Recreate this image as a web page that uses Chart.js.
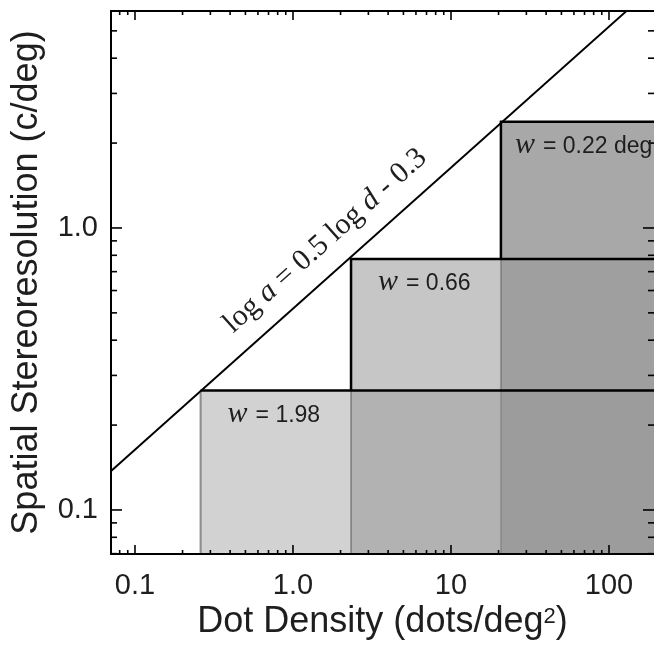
<!DOCTYPE html>
<html>
<head>
<meta charset="utf-8">
<script src="https://cdn.jsdelivr.net/npm/chart.js@4.4.0/dist/chart.umd.min.js"></script>
<style>
  body { margin: 0; background: #fff; }
</style>
</head>
<body>
<canvas id="myChart" width="654" height="646"></canvas>
<script>
// axis ranges (dots/deg2, c/deg)
const xRange = [0.0705, 192.7];
const yRange = [0.0698, 5.88];
const xLabelValues = [0.1, 1, 10, 100];
const xLabelText = ["0.1", "1.0", "10", "100"];
const yLabelValues = [0.1, 1];
const yLabelText = ["0.1", "1.0"];

// staircase boxes: corner density / resolution, labels
const boxDensity = [0.26, 2.33, 20.7];
const boxResolution = [0.265, 0.776, 2.38];
const boxWidth = ["1.98", "0.66", "0.22 deg"];

// log a = 0.5 log d - 0.3 (end points read at the plot edges)
const lineDensity = [0.07, 130];
const lineResolution = [0.137, 5.9];

const textColor = "#1e1e1e";
const boxFill = ["rgba(152,152,152,0.44)", "rgba(152,152,152,0.55)", "rgba(152,152,152,0.845)"];

function logTicks(min, max) {
  const out = [];
  for (let e = -2; e <= 3; e++) {
    for (let m = 1; m <= 9; m++) {
      const v = +(m * Math.pow(10, e)).toPrecision(3);
      if (v >= min && v <= max) out.push({ value: v });
    }
  }
  return out;
}

function labelFor(values, texts) {
  return function (v) {
    const i = values.findIndex((t) => Math.abs(t - v) / t < 1e-6);
    return i >= 0 ? texts[i] : "";
  };
}

const boxSets = boxDensity.map((d, i) => {
  const pts = [{ x: d, y: yRange[0] }];
  if (i > 0) pts.push({ x: d, y: boxResolution[i - 1] });
  pts.push({ x: d, y: boxResolution[i] });
  pts.push({ x: xRange[1], y: boxResolution[i] });
  return {
    data: pts,
    fill: "start",
    backgroundColor: boxFill[i],
    borderColor: "#000",
    borderWidth: 2.5,
    pointRadius: 0,
    tension: 0,
    segment: {
      borderColor: (c) => (c.p0.parsed.y <= yRange[0] * 1.001 ? "rgba(0,0,0,0.42)" : "#000"),
      borderWidth: (c) => (c.p0.parsed.y <= yRange[0] * 1.001 ? 2 : 2.5),
    },
  };
});

const diagSet = {
  data: lineDensity.map((d, i) => ({ x: d, y: lineResolution[i] })),
  borderColor: "#000",
  borderWidth: 2,
  pointRadius: 0,
  fill: false,
};

function seg(ctx, x1, y1, x2, y2) {
  ctx.beginPath();
  ctx.moveTo(x1, y1);
  ctx.lineTo(x2, y2);
  ctx.stroke();
}

const decorations = {
  id: "decorations",
  afterDatasetsDraw(chart) {
    const { ctx, chartArea: a } = chart;
    const x = chart.scales.x, y = chart.scales.y;
    ctx.save();
    ctx.strokeStyle = "#000";
    ctx.lineWidth = 1.6;
    // inward ticks on all four sides
    x.ticks.forEach((t) => {
      const px = x.getPixelForValue(t.value);
      const len = t.label ? 9 : 4;
      seg(ctx, px, a.bottom, px, a.bottom - len);
      seg(ctx, px, a.top, px, a.top + len);
    });
    y.ticks.forEach((t) => {
      const py = y.getPixelForValue(t.value);
      const len = t.label ? 11 : 6;
      seg(ctx, a.left, py, a.left + len, py);
      seg(ctx, a.right, py, a.right - len, py);
    });
    ctx.lineWidth = 2;
    ctx.strokeRect(a.left, a.top, a.right - a.left + 2, a.bottom - a.top);

    // box labels
    ctx.fillStyle = textColor;
    ctx.textBaseline = "alphabetic";
    const dx = [27, 27, 14];
    boxDensity.forEach((d, i) => {
      let px = x.getPixelForValue(d) + dx[i];
      const py = y.getPixelForValue(boxResolution[i]) + 31;
      ctx.font = 'italic 30px "Liberation Serif"';
      ctx.fillText("w", px, py);
      px += ctx.measureText("w").width + 8;
      ctx.font = '23px "Liberation Sans"';
      ctx.fillText("= " + boxWidth[i], px, py);
    });

    // equation along the line
    const p1 = { x: x.getPixelForValue(lineDensity[0]), y: y.getPixelForValue(lineResolution[0]) };
    const p2 = { x: x.getPixelForValue(lineDensity[1]), y: y.getPixelForValue(lineResolution[1]) };
    const ang = Math.atan2(p2.y - p1.y, p2.x - p1.x);
    const pieces = [["log ", false], ["a", true], [" = 0.5 log ", false], ["d", true], [" - 0.3", false]];
    const fReg = '30px "Liberation Serif"', fIt = 'italic 30px "Liberation Serif"';
    let total = 0;
    pieces.forEach((p) => { ctx.font = p[1] ? fIt : fReg; total += ctx.measureText(p[0]).width; });
    ctx.save();
    ctx.translate(x.getPixelForValue(1.6), y.getPixelForValue(0.9));
    ctx.rotate(ang);
    ctx.textBaseline = "middle";
    let tx = -total / 2;
    pieces.forEach((p) => {
      ctx.font = p[1] ? fIt : fReg;
      ctx.fillText(p[0], tx, 0);
      tx += ctx.measureText(p[0]).width;
    });
    ctx.restore();

    // x axis title with superscript
    const main = "Dot Density (dots/deg", sup = "2", close = ")";
    const fBig = '36px "Liberation Sans"', fSup = '22px "Liberation Sans"';
    ctx.font = fBig;
    const w1 = ctx.measureText(main).width, w3 = ctx.measureText(close).width;
    ctx.font = fSup;
    const w2 = ctx.measureText(sup).width;
    let sx = (a.left + a.right) / 2 - (w1 + w2 + w3) / 2;
    const base = 632;
    ctx.font = fBig;
    ctx.fillText(main, sx, base);
    sx += w1;
    ctx.font = fSup;
    ctx.fillText(sup, sx, base - 9);
    sx += w2;
    ctx.font = fBig;
    ctx.fillText(close, sx, base);
    ctx.restore();
  },
};

const config = {
  type: "line",
  data: { datasets: [...boxSets, diagSet] },
  options: {
    responsive: false,
    animation: false,
    layout: { padding: { top: 11, right: 0, left: 0, bottom: 0 } },
    plugins: { legend: { display: false }, tooltip: { enabled: false } },
    scales: {
      x: {
        type: "logarithmic",
        min: xRange[0],
        max: xRange[1],
        bounds: "data",
        grid: { display: false, drawTicks: false },
        border: { display: false },
        afterBuildTicks: (s) => { s.ticks = logTicks(xRange[0], xRange[1]); },
        ticks: {
          autoSkip: false,
          maxRotation: 0,
          padding: 15,
          color: textColor,
          font: { family: "Liberation Sans", size: 29 },
          callback: labelFor(xLabelValues, xLabelText),
        },
        afterFit: (s) => { s.height = 92; s.paddingLeft = 0; s.paddingRight = 0; },
      },
      y: {
        type: "logarithmic",
        min: yRange[0],
        max: yRange[1],
        bounds: "data",
        grid: { display: false, drawTicks: false },
        border: { display: false },
        afterBuildTicks: (s) => { s.ticks = logTicks(yRange[0], yRange[1]); },
        ticks: {
          autoSkip: false,
          padding: 13,
          color: textColor,
          font: { family: "Liberation Sans", size: 29 },
          callback: labelFor(yLabelValues, yLabelText),
        },
        title: {
          display: true,
          text: "Spatial Stereoresolution (c/deg)",
          color: textColor,
          font: { family: "Liberation Sans", size: 36 },
          padding: { top: 5, bottom: 0 },
        },
        afterFit: (s) => { s.width = 111; s.paddingTop = 0; s.paddingBottom = 0; },
      },
    },
  },
  plugins: [decorations],
};

const myChart = new Chart(document.getElementById("myChart"), config);
</script>
</body>
</html>
